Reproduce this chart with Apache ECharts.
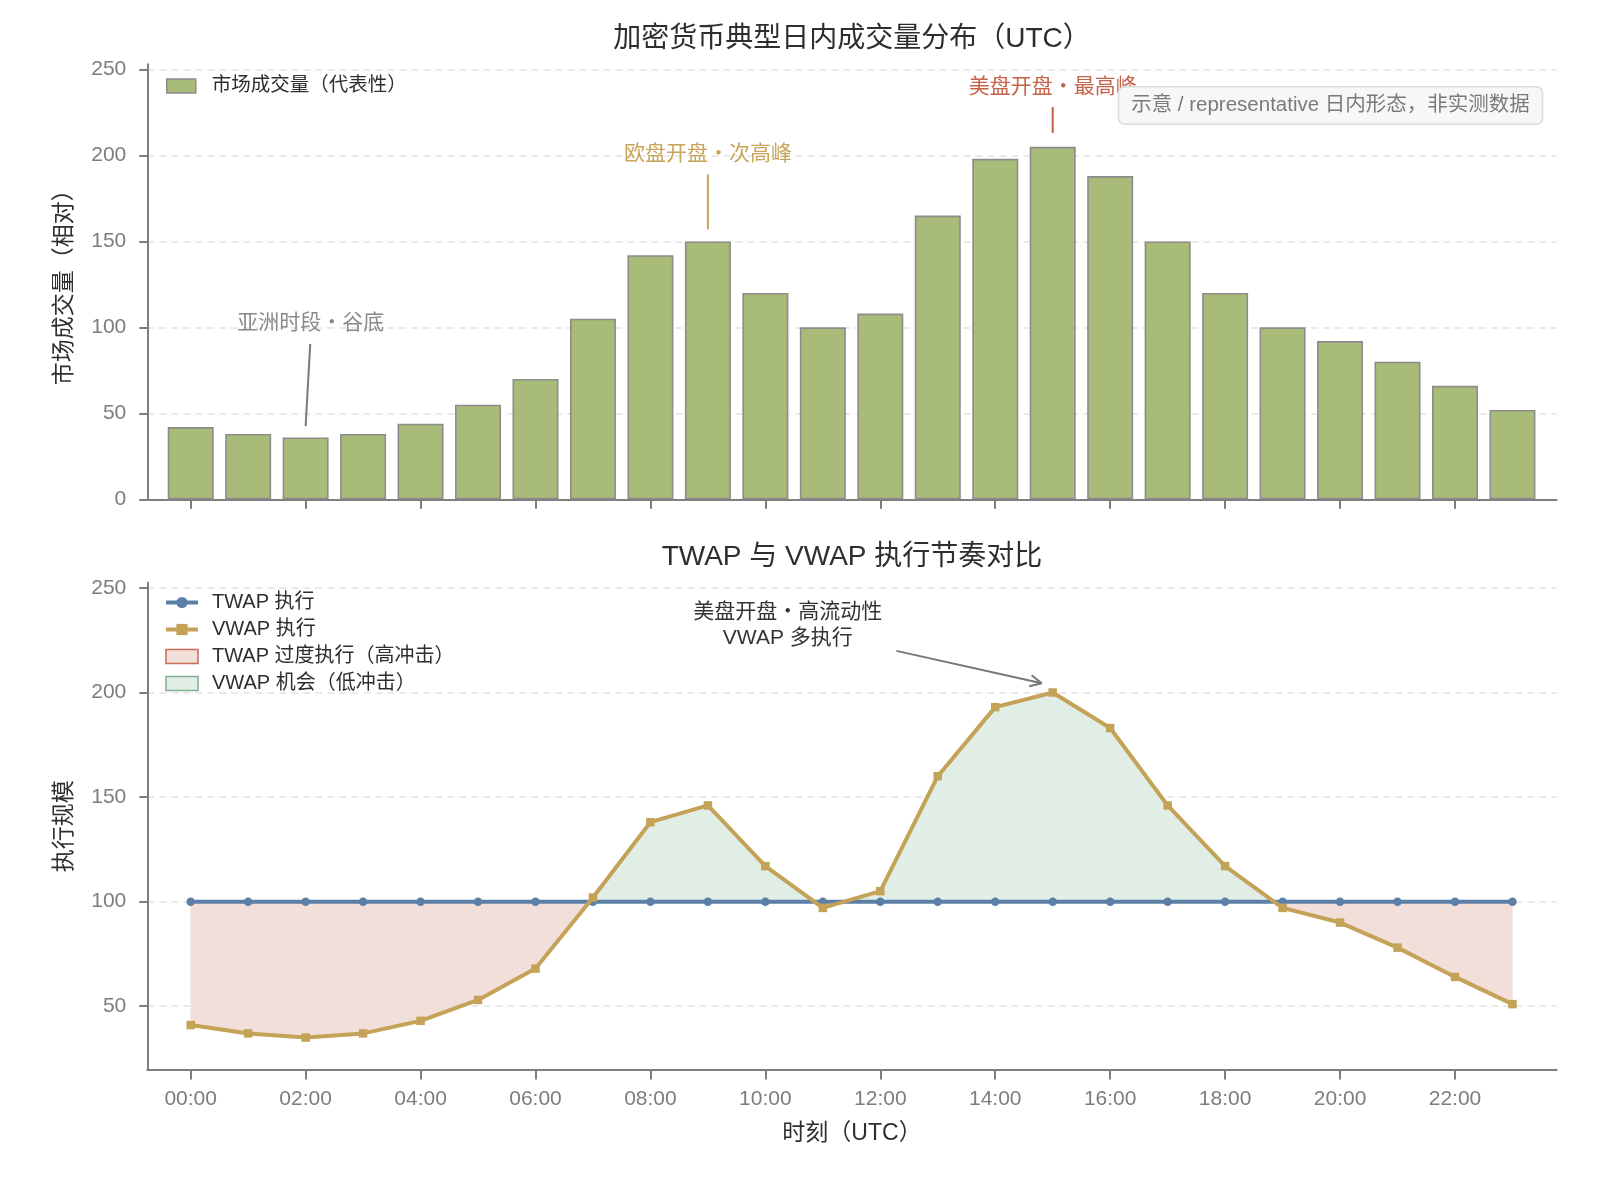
<!DOCTYPE html>
<html><head><meta charset="utf-8">
<script src="https://cdn.jsdelivr.net/npm/echarts@6/dist/echarts.min.js"></script>
<style>html,body{margin:0;padding:0;background:#fff}#main{width:1600px;height:1178px}</style>
</head><body><div id="main"></div>
<script>
// ---- data ----
const hours = [0,1,2,3,4,5,6,7,8,9,10,11,12,13,14,15,16,17,18,19,20,21,22,23];
const hourLabels = ['00:00','01:00','02:00','03:00','04:00','05:00','06:00','07:00','08:00','09:00','10:00','11:00',
                    '12:00','13:00','14:00','15:00','16:00','17:00','18:00','19:00','20:00','21:00','22:00','23:00'];
const tickHours = [0,2,4,6,8,10,12,14,16,18,20,22];
const volume = [42,38,36,38,44,55,70,105,142,150,120,100,108,165,198,205,188,150,120,100,92,80,66,52];
const twap = [100,100,100,100,100,100,100,100,100,100,100,100,100,100,100,100,100,100,100,100,100,100,100,100];
const vwap = [41,37,35,37,43,53,68,102,138,146,117,97,105,160,193,200,183,146,117,97,90,78,64,51];
const volTicks = [0,50,100,150,200,250];
const execTicks = [50,100,150,200,250];

const VOL_NAME = '市场成交量（代表性）';
const TWAP_NAME = 'TWAP 执行';
const VWAP_NAME = 'VWAP 执行';
const OVER_NAME = 'TWAP 过度执行（高冲击）';
const OPP_NAME = 'VWAP 机会（低冲击）';

const FONT = '"Liberation Sans", "Noto Sans CJK SC", sans-serif';
const C = {
  bar: '#a8bb78', barEdge: '#8c8c8c', twap: '#5b7fa6', vwap: '#c4a257',
  redFill: '#f2dfd9', redEdge: '#c96b55', greenFill: '#e1eee6', greenEdge: '#7fae91',
  axis: '#7f7f7f', tick: '#7d7d7d', grid: '#e3e3e3', text: '#2e2e2e'
};

// regions between vwap and twap, split at crossings
function regions(sign) {
  const runs = []; let run = null;
  for (let i = 0; i < hours.length; i++) {
    const d = vwap[i] - twap[i];
    if (i > 0) {
      const dp = vwap[i-1] - twap[i-1];
      if ((dp < 0 && d > 0) || (dp > 0 && d < 0)) {
        const f = dp / (dp - d);
        const xc = hours[i-1] + f * (hours[i] - hours[i-1]);
        const yc = twap[i-1] + f * (twap[i] - twap[i-1]);
        run.pts.push([xc, yc, yc]); runs.push(run);
        run = {s: d > 0 ? 1 : -1, pts: [[xc, yc, yc]]};
      }
    }
    if (!run) run = {s: d > 0 ? 1 : -1, pts: []};
    run.pts.push([hours[i], vwap[i], twap[i]]);
  }
  runs.push(run);
  return runs.filter(r => r.s === sign);
}
function makeRender(sign, fill) {
  return function (params, api) {
    const children = regions(sign).map(r => {
      const up = r.pts.map(p => api.coord([p[0], p[1]]));
      const dn = r.pts.slice().reverse().map(p => api.coord([p[0], p[2]]));
      return {type: 'polygon', shape: {points: up.concat(dn)}, style: {fill: fill, stroke: fill, lineWidth: 0.5}};
    });
    return {type: 'group', children: children};
  };
}

const chart = echarts.init(document.getElementById('main'), null, {renderer: 'canvas'});

function xAxisCfg(grid, showLabels, name) {
  return {
    type: 'value', gridIndex: grid, min: -0.755, max: 23.77,
    axisLine: {show: true, onZero: false, lineStyle: {color: C.axis, width: 2}},
    axisTick: {show: true, customValues: tickHours, length: 9.5, lineStyle: {color: C.tick, width: 2}},
    axisLabel: {show: showLabels, customValues: tickHours, margin: 19,
      formatter: v => hourLabels[Math.round(v)], color: C.tick, fontSize: 21, fontFamily: FONT},
    splitLine: {show: false},
    name: name || '', nameLocation: 'middle', nameGap: 52,
    nameTextStyle: {fontSize: 23, color: C.text, fontFamily: FONT}
  };
}
function yAxisCfg(grid, min, max, ticks, name) {
  return {
    type: 'value', gridIndex: grid, min: min, max: max,
    axisLine: {show: true, onZero: false, lineStyle: {color: C.axis, width: 2}},
    axisTick: {show: true, customValues: ticks, length: 8, lineStyle: {color: C.tick, width: 2}},
    axisLabel: {customValues: ticks, margin: 21, color: C.tick, fontSize: 21, fontFamily: FONT},
    splitLine: {show: true, lineStyle: {color: C.grid, width: 1.5, type: [7, 5]}},
    name: name, nameLocation: 'middle', nameGap: 71,
    nameTextStyle: {fontSize: 23, color: C.text, fontFamily: FONT}
  };
}

chart.setOption({
  animation: false,
  backgroundColor: '#ffffff',
  textStyle: {fontFamily: FONT},
  grid: [
    {left: 147.3, top: 64.3, width: 1409.4, height: 435},
    {left: 147.3, top: 582.7, width: 1409.4, height: 487.3}
  ],
  xAxis: [xAxisCfg(0, false), xAxisCfg(1, true, '时刻（UTC）')],
  yAxis: [yAxisCfg(0, 0, 253, volTicks, '市场成交量（相对）'), yAxisCfg(1, 19.5, 252.5, execTicks, '执行规模')],
  legend: [
    {
      data: [{name: VOL_NAME, icon: 'rect', itemStyle: {color: C.bar, borderColor: C.barEdge, borderWidth: 1.5}}],
      left: 166, top: 76, orient: 'vertical', itemWidth: 29, itemHeight: 14, padding: 0,
      textStyle: {fontSize: 19.5, color: C.text, fontFamily: FONT, padding: [0, 0, 0, 11], lineHeight: 20}
    },
    {
      data: [
        {name: TWAP_NAME, lineStyle: {width: 4, color: C.twap}},
        {name: VWAP_NAME, lineStyle: {width: 4, color: C.vwap}},
        {name: OVER_NAME, icon: 'rect', itemStyle: {color: C.redFill, borderColor: C.redEdge, borderWidth: 1.5}},
        {name: OPP_NAME, icon: 'rect', itemStyle: {color: C.greenFill, borderColor: C.greenEdge, borderWidth: 1.5}}
      ],
      left: 164, top: 592.5, orient: 'vertical', itemWidth: 32, itemHeight: 14, itemGap: 7, padding: 0,
      textStyle: {fontSize: 20, color: C.text, fontFamily: FONT, padding: [0, 0, 0, 9], lineHeight: 20}
    }
  ],
  series: [
    {
      type: 'bar', name: VOL_NAME, xAxisIndex: 0, yAxisIndex: 0,
      data: hours.map((h, i) => [h, volume[i]]), barWidth: 46,
      itemStyle: {color: C.bar, borderColor: C.barEdge, borderWidth: 1.6}, z: 2
    },
    {
      type: 'custom', name: OVER_NAME, xAxisIndex: 1, yAxisIndex: 1, data: [[0, 100]],
      renderItem: makeRender(-1, C.redFill), clip: true, silent: true, z: 1,
      itemStyle: {color: C.redFill, borderColor: C.redEdge}
    },
    {
      type: 'custom', name: OPP_NAME, xAxisIndex: 1, yAxisIndex: 1, data: [[0, 100]],
      renderItem: makeRender(1, C.greenFill), clip: true, silent: true, z: 1,
      itemStyle: {color: C.greenFill, borderColor: C.greenEdge}
    },
    {
      type: 'line', name: TWAP_NAME, xAxisIndex: 1, yAxisIndex: 1,
      data: hours.map((h, i) => [h, twap[i]]), symbol: 'circle', symbolSize: 8.5,
      lineStyle: {width: 4, color: C.twap}, itemStyle: {color: C.twap}, z: 3
    },
    {
      type: 'line', name: VWAP_NAME, xAxisIndex: 1, yAxisIndex: 1,
      data: hours.map((h, i) => [h, vwap[i]]), symbol: 'rect', symbolSize: 8.5,
      lineStyle: {width: 4, color: C.vwap}, itemStyle: {color: C.vwap}, z: 4
    }
  ]
});

// ---- annotations ----
function px(grid, x, y) { return chart.convertToPixel({xAxisIndex: grid, yAxisIndex: grid}, [x, y]); }
function textEl(p, txt, color, size, lh) {
  const st = {text: txt, fill: color, fontSize: size, fontFamily: FONT, align: 'center', verticalAlign: 'middle'};
  if (lh) st.lineHeight = lh;
  return {type: 'text', x: p[0], y: p[1], z: 20, style: st};
}
function lineEl(a, b, color, w) {
  return {type: 'line', z: 20, shape: {x1: a[0], y1: a[1], x2: b[0], y2: b[1]}, style: {stroke: color, lineWidth: w}};
}
const g = [];
// titles
g.push(textEl([852, 39.5], '加密货币典型日内成交量分布（UTC）', C.text, 28));
g.push(textEl([852, 557.5], 'TWAP 与 VWAP 执行节奏对比', C.text, 28));
// asia
g.push(textEl(px(0, 2.09, 102.2), '亚洲时段・谷底', '#8a8a8a', 21));
g.push(lineEl(px(0, 2.08, 90.3), px(0, 2.0, 42.6), '#7a7a7a', 2));
// europe
g.push(textEl(px(0, 9.0, 200.9), '欧盘开盘・次高峰', '#c9a55c', 21));
g.push(lineEl(px(0, 9.0, 189), px(0, 9.0, 157), '#c9a55c', 2));
// us
g.push(textEl(px(0, 15.0, 239.4), '美盘开盘・最高峰', '#c5634a', 21));
g.push(lineEl(px(0, 15.0, 228.2), px(0, 15.0, 213), '#c5634a', 2));
// note box
g.push({type: 'rect', z: 25, shape: {x: 1118.5, y: 86.7, width: 424, height: 37.6, r: 6},
  style: {fill: '#f6f7f6', stroke: '#d9dcdc', lineWidth: 1.5}});
g.push({type: 'text', z: 26, x: 1330.5, y: 105.5,
  style: {text: '示意 / representative 日内形态，非实测数据', fill: '#7a7a7a', fontSize: 20.5, fontFamily: FONT, align: 'center', verticalAlign: 'middle'}});
// bottom annotation
g.push(textEl(px(1, 10.39, 232.2), '美盘开盘・高流动性\nVWAP 多执行', '#333333', 21, 26.6));
const a0 = px(1, 12.28, 219.9), a1 = px(1, 14.81, 204.4);
g.push(lineEl(a0, a1, '#777777', 2));
(function () {
  const ang = Math.atan2(a1[1] - a0[1], a1[0] - a0[0]);
  const L = 13, sp = 0.45;
  [ang + Math.PI - sp, ang + Math.PI + sp].forEach(t => {
    g.push(lineEl(a1, [a1[0] + L * Math.cos(t), a1[1] + L * Math.sin(t)], '#777777', 2));
  });
})();
chart.setOption({graphic: g});
</script>
</body></html>
